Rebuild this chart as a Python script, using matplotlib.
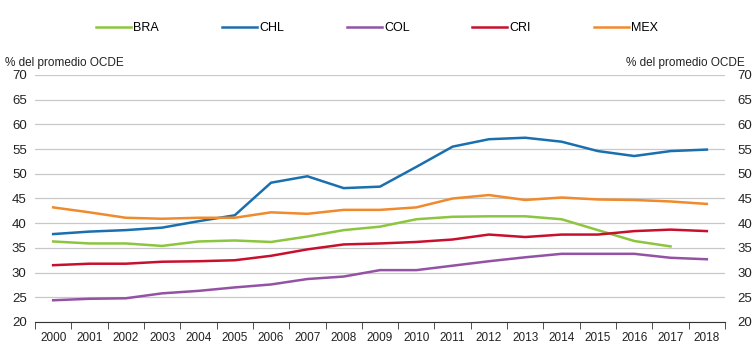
import matplotlib.pyplot as plt
import numpy as np

plt.rcParams['font.family'] = ['Liberation Sans', 'DejaVu Sans']

years = [str(y) for y in range(2000, 2019)]
bra = [36.3, 35.9, 35.9, 35.4, 36.3, 36.5, 36.2, 37.3, 38.6, 39.3,
       40.8, 41.3, 41.4, 41.4, 40.8, 38.6, 36.4, 35.3, None]
chl = [37.8, 38.3, 38.6, 39.1, 40.4, 41.6, 48.2, 49.5, 47.1, 47.4,
       51.4, 55.5, 57.0, 57.3, 56.5, 54.6, 53.6, 54.6, 54.9]
col = [24.4, 24.7, 24.8, 25.8, 26.3, 27.0, 27.6, 28.7, 29.2, 30.5,
       30.5, 31.4, 32.3, 33.1, 33.8, 33.8, 33.8, 33.0, 32.7]
cri = [31.5, 31.8, 31.8, 32.2, 32.3, 32.5, 33.4, 34.7, 35.7, 35.9,
       36.2, 36.7, 37.7, 37.2, 37.7, 37.7, 38.4, 38.7, 38.4]
mex = [43.2, 42.2, 41.1, 40.9, 41.1, 41.1, 42.2, 41.9, 42.7, 42.7,
       43.2, 45.0, 45.7, 44.7, 45.2, 44.8, 44.7, 44.4, 43.9]

names = ['BRA', 'CHL', 'COL', 'CRI', 'MEX']
colors = ['#8cc53f', '#1a6fae', '#9452a5', '#c8102e', '#f08a2c']

fig = plt.figure(figsize=(7.54, 3.47), dpi=100)
ax = fig.add_axes([35 / 754, 25 / 347, 690 / 754, 247 / 347])

x = np.arange(len(years))
for s, n, c in zip([bra, chl, col, cri, mex], names, colors):
    y = np.array([np.nan if v is None else v for v in s])
    ax.plot(x, y, color=c, lw=1.8, label=n)

ax.set_xlim(-0.5, len(years) - 0.5)
ax.set_ylim(20, 70)
ax.set_yticks(range(20, 71, 5))
ax.grid(axis='y', color='#c8c8c8', lw=0.9)
ax.set_axisbelow(True)
for sp in ['left', 'right', 'top']:
    ax.spines[sp].set_visible(False)
ax.spines['bottom'].set_color('#333333')
ax.spines['bottom'].set_linewidth(0.8)

ax.set_xticks(x)
ax.set_xticklabels(years)
ax.set_xticks(np.arange(-0.5, len(years), 1), minor=True)
ax.tick_params(axis='x', which='major', length=0, labelsize=8.5, colors='#222222', pad=7)
ax.tick_params(axis='x', which='minor', length=5, color='#333333', direction='out')
ax.tick_params(axis='y', length=0, labelsize=9.5, colors='#222222', pad=6)

ax2 = ax.twinx()
ax2.set_ylim(20, 70)
ax2.set_yticks(range(20, 71, 5))
for sp in ['left', 'right', 'top', 'bottom']:
    ax2.spines[sp].set_visible(False)
ax2.tick_params(axis='y', length=0, labelsize=9.5, colors='#222222', pad=9)

fig.text(5 / 754, 1 - 63 / 347, '% del promedio OCDE', fontsize=8.5, color='#222222', va='center')
fig.text(745 / 754, 1 - 63 / 347, '% del promedio OCDE', fontsize=8.5, color='#222222',
         va='center', ha='right')

fig.legend(loc='center', bbox_to_anchor=(0.5, 1 - 28 / 347), ncol=5, frameon=False,
           fontsize=9, handlelength=2.8, handletextpad=0.2, columnspacing=5.0)

fig.savefig('out.png', dpi=100)
